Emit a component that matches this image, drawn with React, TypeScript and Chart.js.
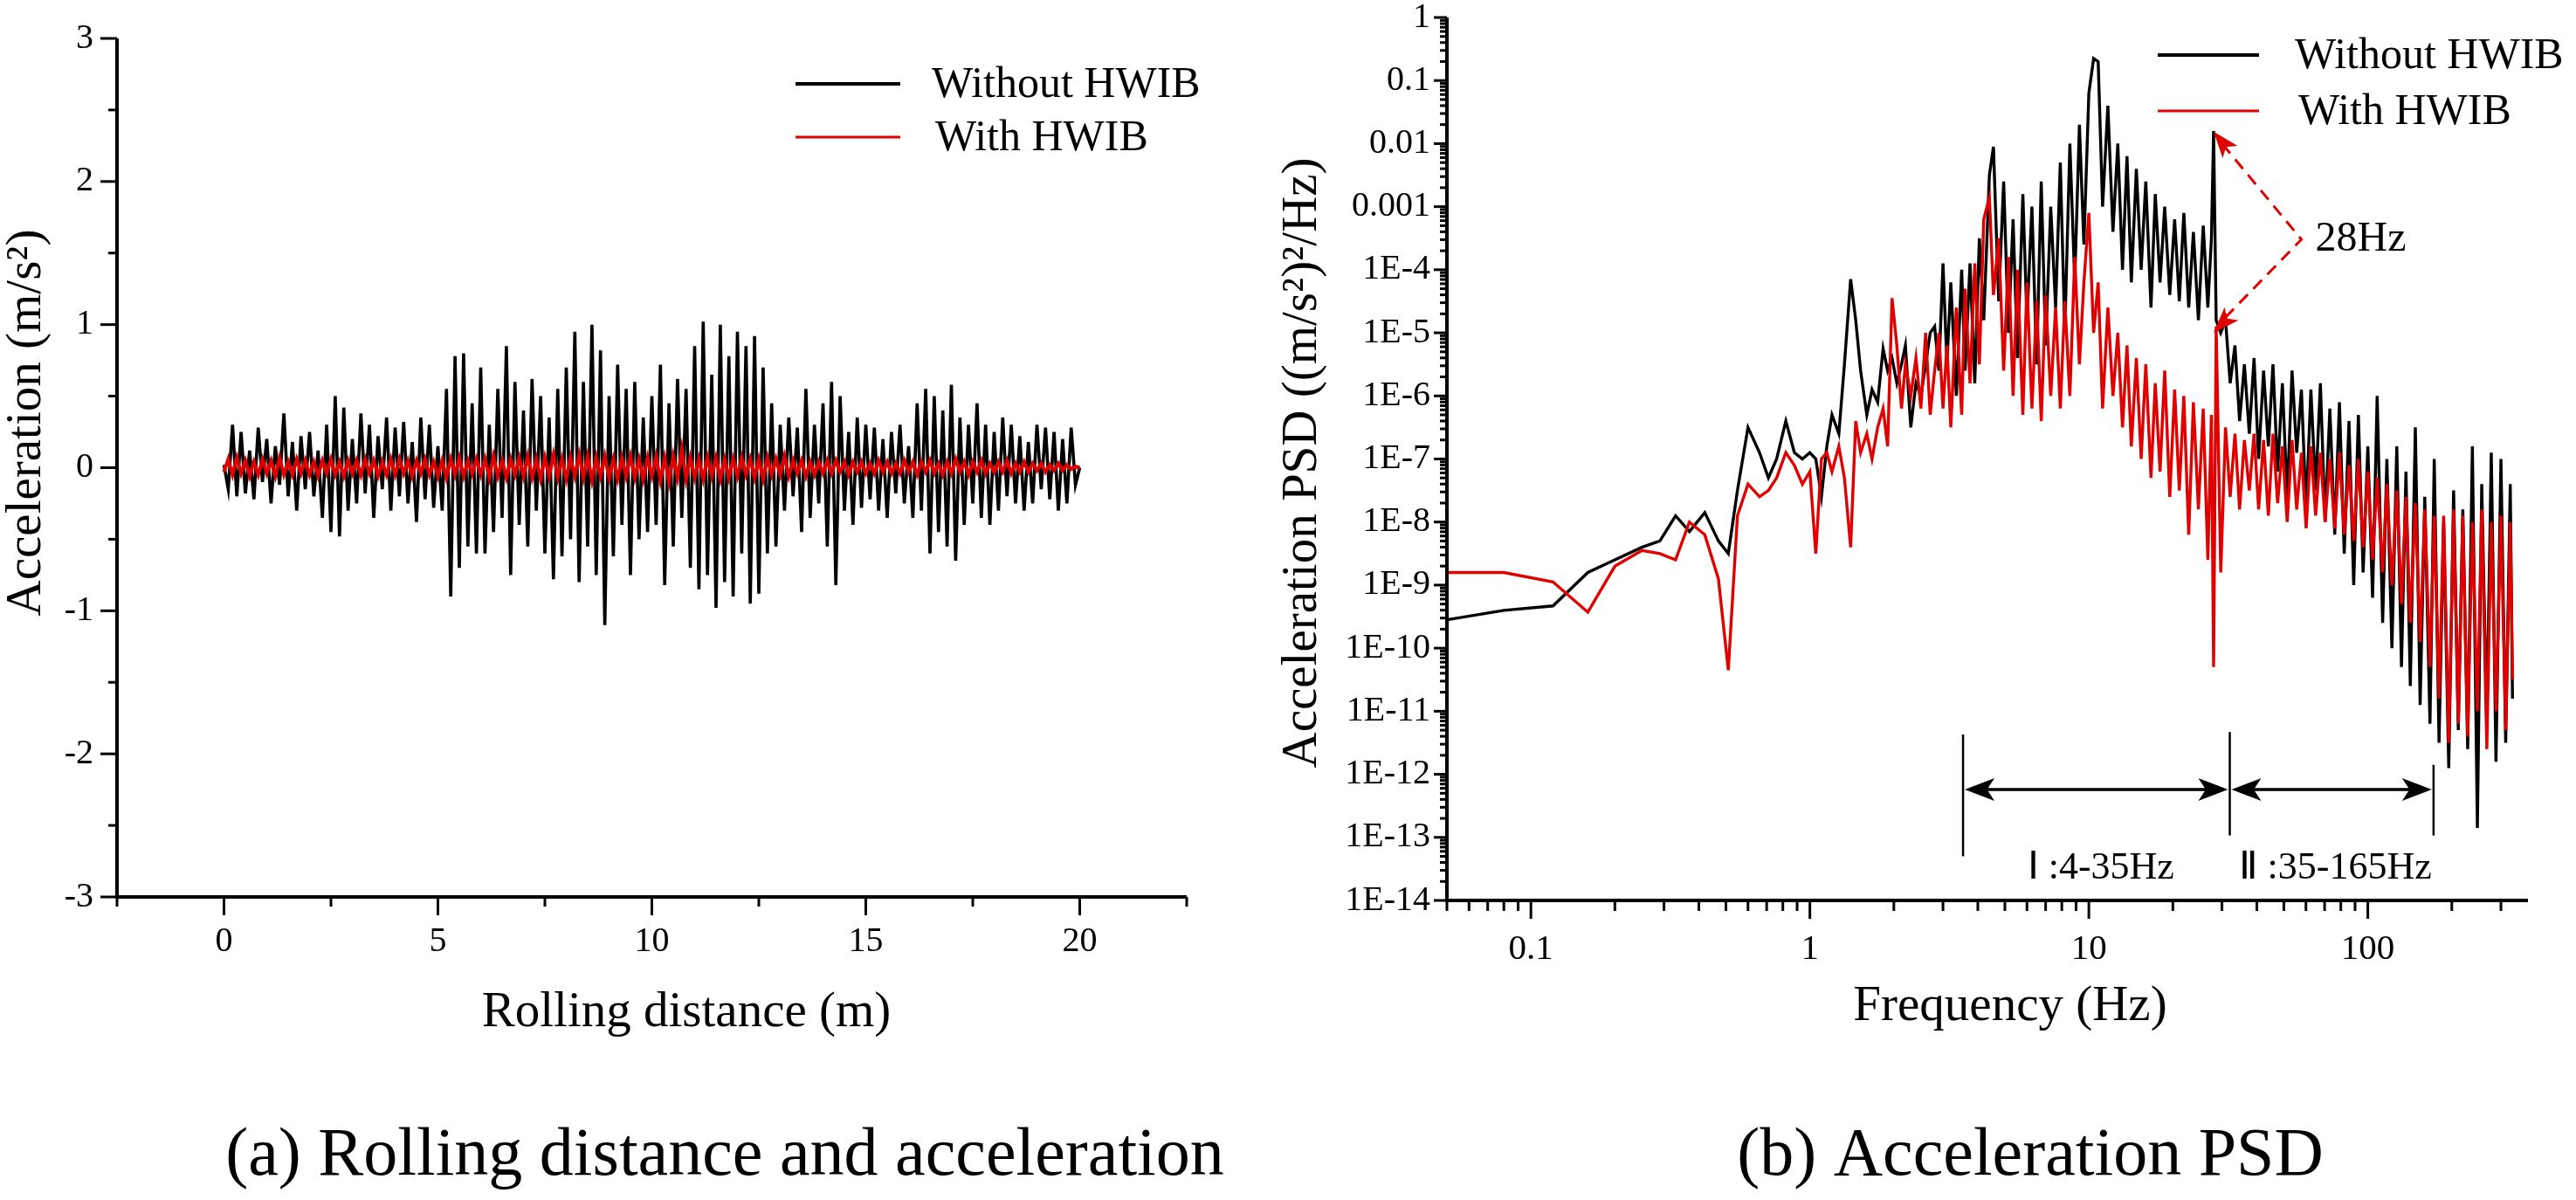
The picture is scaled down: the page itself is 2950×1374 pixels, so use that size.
import React, { useEffect, useRef } from "react";
import { Chart, registerables } from "chart.js";
Chart.register(...registerables);

const FONT = '"Liberation Serif", "Times New Roman", serif';
const BLACK = "#000000";
const RED = "#e00000";

// ---------- (a) time history ----------
const DIST_STEP = 0.1; // m between samples
const ACC_WITHOUT = [
  0.02, -0.15, 0.3, -0.2, 0.25, -0.18, 0.12, -0.22, 0.28, -0.1,
  0.2, -0.25, 0.15, -0.12, 0.38, -0.2, 0.18, -0.3, 0.22, -0.15,
  0.25, -0.2, 0.12, -0.35, 0.3, -0.45, 0.5, -0.48, 0.42, -0.3,
  0.2, -0.25, 0.38, -0.18, 0.3, -0.35, 0.22, -0.15, 0.35, -0.3,
  0.28, -0.2, 0.32, -0.25, 0.18, -0.38, 0.35, -0.22, 0.3, -0.28,
  0.15, -0.3, 0.55, -0.9, 0.78, -0.7, 0.8, -0.55, 0.45, -0.6,
  0.7, -0.6, 0.3, -0.45, 0.55, -0.35, 0.85, -0.75, 0.6, -0.4,
  0.4, -0.55, 0.62, -0.3, 0.5, -0.6, 0.35, -0.78, 0.55, -0.62,
  0.7, -0.5, 0.95, -0.8, 0.6, -0.55, 1.0, -0.75, 0.82, -1.1,
  0.5, -0.62, 0.72, -0.4, 0.55, -0.75, 0.6, -0.5, 0.35, -0.45,
  0.5, -0.4, 0.72, -0.82, 0.45, -0.55, 0.62, -0.35, 0.55, -0.7,
  0.85, -0.85, 1.02, -0.75, 0.65, -0.98, 1.0, -0.8, 0.78, -0.9,
  0.95, -0.6, 0.85, -0.95, 0.92, -0.88, 0.7, -0.6, 0.45, -0.55,
  0.3, -0.3, 0.35, -0.2, 0.28, -0.45, 0.55, -0.35, 0.3, -0.25,
  0.45, -0.55, 0.6, -0.82, 0.5, -0.3, 0.25, -0.4, 0.35, -0.28,
  0.3, -0.22, 0.28, -0.3, 0.2, -0.35, 0.25, -0.18, 0.3, -0.25,
  0.15, -0.35, 0.45, -0.3, 0.55, -0.6, 0.5, -0.45, 0.4, -0.55,
  0.58, -0.65, 0.35, -0.4, 0.3, -0.25, 0.45, -0.35, 0.3, -0.4,
  0.25, -0.3, 0.35, -0.2, 0.3, -0.25, 0.22, -0.3, 0.18, -0.25,
  0.3, -0.15, 0.28, -0.22, 0.25, -0.3, 0.2, -0.25, 0.28, -0.12,
  0.0,
];
const ACC_WITH = [
  -0.03, 0.06, -0.05, 0.07, -0.04, 0.05, -0.06, 0.04, -0.05, 0.06,
  -0.04, 0.05, -0.06, 0.07, -0.05, 0.04, -0.05, 0.06, -0.04, 0.05,
  -0.05, 0.04, -0.06, 0.05, -0.04, 0.06, -0.05, 0.04, -0.06, 0.05,
  -0.04, 0.05, -0.05, 0.06, -0.04, 0.05, -0.06, 0.04, -0.05, 0.06,
  -0.05, 0.06, -0.04, 0.05, -0.06, 0.05, -0.04, 0.06, -0.05, 0.04,
  -0.06, 0.05, -0.07, 0.06, -0.05, 0.07, -0.06, 0.05, -0.04, 0.06,
  -0.05, 0.06, -0.07, 0.08, -0.06, 0.05, -0.07, 0.06, -0.05, 0.07,
  -0.06, 0.08, -0.07, 0.06, -0.08, 0.07, -0.06, 0.09, -0.07, 0.06,
  -0.08, 0.07, -0.06, 0.09, -0.07, 0.08, -0.09, 0.07, -0.06, 0.08,
  -0.07, 0.06, -0.08, 0.07, -0.06, 0.08, -0.07, 0.06, -0.08, 0.07,
  -0.06, 0.08, -0.09, 0.07, -0.1, 0.08, -0.07, 0.13, -0.08, 0.07,
  -0.07, 0.06, -0.08, 0.07, -0.06, 0.07, -0.08, 0.06, -0.07, 0.06,
  -0.06, 0.07, -0.05, 0.06, -0.07, 0.06, -0.08, 0.07, -0.05, 0.06,
  -0.05, 0.08, -0.06, 0.05, -0.04, 0.05, -0.06, 0.04, -0.05, 0.04,
  -0.04, 0.05, -0.04, 0.05, -0.03, 0.04, -0.05, 0.04, -0.03, 0.04,
  -0.04, 0.03, -0.04, 0.05, -0.03, 0.04, -0.04, 0.03, -0.04, 0.05,
  -0.03, 0.04, -0.05, 0.04, -0.03, 0.05, -0.04, 0.03, -0.05, 0.04,
  -0.04, 0.06, -0.03, 0.04, -0.05, 0.04, -0.03, 0.05, -0.04, 0.03,
  -0.03, 0.04, -0.03, 0.05, -0.04, 0.03, -0.03, 0.04, -0.03, 0.03,
  -0.02, 0.03, -0.03, 0.02, -0.02, 0.03, -0.02, 0.02, -0.01, 0.01,
  0.0,
];
const LEFT_X_MIN = -2.5, LEFT_X_MAX = 22.5, LEFT_X_STEP = 2.5;
const LEFT_Y_MIN = -3, LEFT_Y_MAX = 3, LEFT_Y_STEP = 0.5;

// ---------- (b) PSD ----------
const FREQ = [
  0.05, 0.08, 0.12, 0.16, 0.2, 0.25, 0.29, 0.33, 0.37, 0.42,
  0.47, 0.51, 0.55, 0.6, 0.66, 0.71, 0.76, 0.82, 0.88, 0.94,
  1.0, 1.05, 1.1, 1.15, 1.2, 1.27, 1.33, 1.4, 1.46, 1.52,
  1.6, 1.67, 1.75, 1.83, 1.9, 1.97, 2.05, 2.13, 2.2, 2.3,
  2.4, 2.5, 2.6, 2.7, 2.8, 2.9, 3.0,
  3.1, 3.2, 3.35, 3.5, 3.6, 3.75, 3.9, 4.05, 4.2, 4.4,
  4.55, 4.75, 4.95, 5.15, 5.35, 5.55, 5.8, 6.0, 6.25, 6.5,
  6.75, 7.0, 7.3, 7.6, 7.9, 8.2, 8.55, 8.9, 9.25, 9.6,
  10.0, 10.4, 10.8, 11.2, 11.7, 12.2, 12.7, 13.2, 13.7, 14.2,
  14.8, 15.4, 16.0, 16.7, 17.3, 18.0, 18.7, 19.5, 20.3, 21.1,
  21.9, 22.8, 23.7, 24.7, 25.7, 26.7, 27.5, 28.0, 28.6, 29.7,
  30.9, 32.1, 33.4, 34.7, 36.1, 37.6, 39.1, 40.6, 42.3, 44.0,
  45.7, 47.5, 49.4, 51.4, 53.5, 55.6, 57.8, 60.1, 62.5, 65.0,
  67.6, 70.3, 73.1, 76.1, 79.1, 82.3, 85.6, 89.0, 92.5, 96.2,
  100, 104, 108, 113, 117, 122, 127, 132, 137, 142,
  148, 154, 160, 167, 173, 180, 187, 195, 203, 211,
  219, 228, 237, 247, 256, 267, 277, 288, 300, 312,
  324, 330,
];
// log10 of PSD, (m/s^2)^2/Hz
const PSD_WITHOUT_LOG = [
  -9.55, -9.4, -9.33, -8.8, -8.6, -8.4, -8.3, -7.9, -8.15, -7.85,
  -8.3, -8.5, -7.5, -6.5, -6.9, -7.3, -7.0, -6.4, -6.9, -7.0,
  -6.9, -7.0, -7.6, -6.8, -6.3, -6.6, -5.5, -4.15, -4.8, -5.6,
  -6.3, -5.9, -6.1, -5.25, -5.6, -5.4, -5.8, -5.5, -5.2, -6.5,
  -5.8, -6.0, -5.5, -5.0, -4.9, -5.6, -3.9,
  -5.5, -4.2, -6.0, -4.0, -5.6, -3.9, -5.8, -3.5, -4.8, -2.5,
  -2.05, -4.5, -2.6, -5.0, -3.2, -5.4, -2.8, -4.8, -3.0, -5.5,
  -2.6, -5.2, -3.0, -4.6, -2.3, -5.0, -2.0, -4.2, -1.7, -3.6,
  -1.2, -0.65, -0.7, -3.0, -1.4, -3.4, -2.0, -4.0, -2.2, -4.2,
  -2.4, -4.0, -2.6, -4.6, -2.8, -4.2, -3.0, -4.4, -3.2, -4.5,
  -3.1, -4.6, -3.4, -4.8, -3.3, -4.6, -3.5, -1.8, -4.8, -5.0,
  -4.8, -5.8, -5.2, -6.4, -5.5, -6.6, -5.4, -7.0, -5.6, -6.8,
  -5.5, -7.2, -5.8, -7.6, -5.6, -6.9, -5.9, -7.8, -5.9, -7.5,
  -5.8, -8.0, -6.2, -8.2, -6.1, -8.5, -6.4, -9.0, -6.3, -8.8,
  -6.8, -9.2, -6.0, -9.6, -7.0, -10.0, -6.8, -10.3, -7.2, -10.6,
  -6.5, -10.9, -7.6, -11.2, -7.0, -11.5, -8.0, -11.9, -7.5, -11.3,
  -7.8, -11.6, -6.8, -12.85, -7.4, -11.2, -6.9, -11.8, -7.0, -11.5,
  -7.4, -10.8,
];
const PSD_WITH_LOG = [
  -8.8, -8.8, -8.95, -9.43, -8.7, -8.45, -8.5, -8.6, -8.0, -8.2,
  -8.9, -10.35, -7.9, -7.4, -7.6, -7.5, -7.3, -6.9, -7.1, -7.4,
  -7.2, -8.5, -7.0, -6.9, -7.2, -6.8, -7.3, -8.4, -6.4, -6.9,
  -6.6, -7.0, -6.5, -6.2, -6.8, -4.45, -5.2, -6.2, -5.5, -6.0,
  -5.4, -6.2, -5.0, -6.3, -5.6, -5.0, -6.2,
  -5.2, -6.5, -4.6, -6.3, -4.3, -5.8, -3.9, -5.5, -3.2, -2.85,
  -4.4, -3.5, -5.6, -3.8, -6.0, -4.0, -6.3, -4.2, -6.2, -4.5,
  -6.4, -4.4, -6.0, -4.6, -6.2, -4.5, -6.0, -3.8, -5.5, -4.2,
  -3.1, -5.0, -4.2, -6.2, -4.6, -6.0, -5.0, -6.5, -5.2, -6.8,
  -5.4, -7.0, -5.5, -7.3, -5.8, -7.2, -5.6, -7.6, -5.9, -7.5,
  -6.0, -8.2, -6.1, -7.8, -6.2, -8.6, -6.3, -10.3, -4.9, -8.8,
  -6.5, -7.6, -6.6, -7.8, -6.7, -7.5, -6.6, -7.8, -6.7, -7.9,
  -6.6, -7.7, -6.8, -8.0, -6.7, -7.8, -6.9, -8.1, -6.8, -7.9,
  -6.9, -8.0, -7.0, -8.1, -6.9, -8.2, -7.1, -8.3, -7.0, -8.4,
  -7.2, -8.6, -7.3, -8.8, -7.4, -9.0, -7.5, -9.3, -7.6, -9.6,
  -7.7, -9.9, -7.8, -10.3, -7.9, -10.8, -7.9, -11.5, -7.8, -11.2,
  -7.9, -11.4, -8.0, -11.0, -7.8, -11.6, -8.0, -11.0, -7.9, -11.3,
  -8.0, -10.5,
];
const RIGHT_X_MIN = 0.05, RIGHT_X_MAX = 375;
const RIGHT_Y_MIN = 1e-14, RIGHT_Y_MAX = 1;
const SERIES_NAMES = ["Without HWIB", "With HWIB"];
const RANGE_BOUNDS_HZ = [3.54, 32, 172];
const RANGE_LABELS = ["Ⅰ :4-35Hz", "Ⅱ :35-165Hz"];
const PEAK_LABEL = "28Hz";

function fmtLog(v: number) {
  const e = Math.round(Math.log10(v));
  if (e >= -3) return e === 0 ? "1" : (10 ** e).toFixed(-e);
  return "1E" + e;
}
function isDecadeMultiple(v: number) {
  const e = Math.floor(Math.log10(v) + 1e-9);
  const m = v / 10 ** e;
  return { ok: Math.abs(m - Math.round(m)) < 1e-6, major: Math.abs(m - 1) < 1e-6 };
}

function text(ctx: CanvasRenderingContext2D, s: string, x: number, y: number, size: number, align: CanvasTextAlign = "center", base: CanvasTextBaseline = "middle", color = BLACK) {
  ctx.font = `${size}px ${FONT}`;
  ctx.fillStyle = color;
  ctx.textAlign = align;
  ctx.textBaseline = base;
  ctx.fillText(s, x, y);
}
function arrowHead(ctx: CanvasRenderingContext2D, tx: number, ty: number, fx: number, fy: number, len: number, half: number, color: string) {
  const a = Math.atan2(ty - fy, tx - fx);
  ctx.fillStyle = color;
  ctx.beginPath();
  ctx.moveTo(tx, ty);
  ctx.lineTo(tx - len * Math.cos(a) + half * Math.sin(a), ty - len * Math.sin(a) - half * Math.cos(a));
  ctx.lineTo(tx - len * Math.cos(a) * 0.75, ty - len * Math.sin(a) * 0.75);
  ctx.lineTo(tx - len * Math.cos(a) - half * Math.sin(a), ty - len * Math.sin(a) + half * Math.cos(a));
  ctx.closePath();
  ctx.fill();
}

const W_LEFT = 1440, W_RIGHT = 1510, H = 1374, RIGHT_OFFSET = 1440;

function LeftChart() {
  const ref = useRef<HTMLCanvasElement>(null);
  useEffect(() => {
    const n = Math.min(ACC_WITHOUT.length, ACC_WITH.length);
    const black = ACC_WITHOUT.slice(0, n).map((y, i) => ({ x: i * DIST_STEP, y }));
    const red = ACC_WITH.slice(0, n).map((y, i) => ({ x: i * DIST_STEP, y }));
    const deco = {
      id: "decoLeft",
      afterDraw(chart: any) {
        const ctx = chart.ctx as CanvasRenderingContext2D;
        const ca = chart.chartArea;
        const xs = chart.scales.x, ys = chart.scales.y;
        ctx.save();
        ctx.strokeStyle = BLACK;
        ctx.lineWidth = 4;
        ctx.beginPath();
        ctx.moveTo(ca.left, ca.top);
        ctx.lineTo(ca.left, ca.bottom);
        ctx.lineTo(ca.right, ca.bottom);
        ctx.stroke();
        ctx.lineWidth = 3;
        xs.ticks.forEach((t: any) => {
          const v = t.value;
          const px = xs.getPixelForValue(v);
          const major = Math.abs(v % 5) < 1e-6 && v >= 0 && v <= 20;
          ctx.beginPath();
          ctx.moveTo(px, ca.bottom);
          ctx.lineTo(px, ca.bottom + (major ? 21 : 11));
          ctx.stroke();
          if (major) text(ctx, String(v), px, ca.bottom + 51, 40);
        });
        ys.ticks.forEach((t: any) => {
          const v = t.value;
          const py = ys.getPixelForValue(v);
          const major = Math.abs(v - Math.round(v)) < 1e-6;
          ctx.beginPath();
          ctx.moveTo(ca.left, py);
          ctx.lineTo(ca.left - (major ? 19 : 10), py);
          ctx.stroke();
          if (major) text(ctx, String(Math.round(v)), ca.left - 27, py, 40, "right");
        });
        text(ctx, "Rolling distance (m)", 786, 1160, 57);
        text(ctx, "(a) Rolling distance and acceleration", 830, 1325, 78);
        ctx.save();
        ctx.translate(31, 484);
        ctx.rotate(-Math.PI / 2);
        text(ctx, "Acceleration (m/s²)", 0, 0, 57);
        ctx.restore();
        ctx.lineWidth = 4;
        ctx.strokeStyle = BLACK;
        ctx.beginPath(); ctx.moveTo(911, 96); ctx.lineTo(1031, 96); ctx.stroke();
        ctx.strokeStyle = RED;
        ctx.lineWidth = 3;
        ctx.beginPath(); ctx.moveTo(911, 157); ctx.lineTo(1031, 157); ctx.stroke();
        text(ctx, SERIES_NAMES[0], 1067, 98, 50, "left");
        text(ctx, SERIES_NAMES[1], 1071, 159, 50, "left");
        ctx.restore();
      },
    };
    const chart = new Chart(ref.current!, {
      type: "line",
      data: {
        datasets: [
          { label: SERIES_NAMES[0], data: black, borderColor: BLACK, borderWidth: 3.6, pointRadius: 0, order: 2 },
          { label: SERIES_NAMES[1], data: red, borderColor: RED, borderWidth: 4, pointRadius: 0, order: 1 },
        ],
      },
      options: {
        animation: false,
        responsive: false,
        devicePixelRatio: 1,
        layout: { padding: { left: 0, top: 44, right: W_LEFT - 1359, bottom: 0 } },
        plugins: { legend: { display: false }, tooltip: { enabled: false } },
        scales: {
          x: {
            type: "linear", min: LEFT_X_MIN, max: LEFT_X_MAX,
            ticks: { display: false, stepSize: LEFT_X_STEP },
            grid: { display: false }, border: { display: false },
            afterFit: (s: any) => { s.height = H - 1027; },
          },
          y: {
            type: "linear", min: LEFT_Y_MIN, max: LEFT_Y_MAX,
            ticks: { display: false, stepSize: LEFT_Y_STEP },
            grid: { display: false }, border: { display: false },
            afterFit: (s: any) => { s.width = 134; },
          },
        },
      } as any,
      plugins: [deco],
    });
    return () => chart.destroy();
  }, []);
  return <canvas ref={ref} width={W_LEFT} height={H} style={{ position: "absolute", left: 0, top: 0, width: W_LEFT, height: H }} />;
}

function RightChart() {
  const ref = useRef<HTMLCanvasElement>(null);
  useEffect(() => {
    const n = Math.min(FREQ.length, PSD_WITHOUT_LOG.length, PSD_WITH_LOG.length);
    const black = FREQ.slice(0, n).map((f, i) => ({ x: f, y: 10 ** PSD_WITHOUT_LOG[i] }));
    const red = FREQ.slice(0, n).map((f, i) => ({ x: f, y: 10 ** PSD_WITH_LOG[i] }));
    const O = RIGHT_OFFSET;
    const deco = {
      id: "decoRight",
      afterDraw(chart: any) {
        const ctx = chart.ctx as CanvasRenderingContext2D;
        const ca = chart.chartArea;
        const xs = chart.scales.x, ys = chart.scales.y;
        ctx.save();
        ctx.strokeStyle = BLACK;
        ctx.lineWidth = 4;
        ctx.beginPath();
        ctx.moveTo(ca.left, ca.top);
        ctx.lineTo(ca.left, ca.bottom);
        ctx.lineTo(ca.right, ca.bottom);
        ctx.stroke();
        ctx.lineWidth = 3;
        xs.ticks.forEach((t: any) => {
          const v = t.value;
          const d = isDecadeMultiple(v);
          if (!d.ok) return;
          const px = xs.getPixelForValue(v);
          ctx.beginPath();
          ctx.moveTo(px, ca.bottom);
          ctx.lineTo(px, ca.bottom + (d.major ? 21 : 12));
          ctx.stroke();
          if (d.major) text(ctx, String(v), px, ca.bottom + 56, 41);
        });
        ys.ticks.forEach((t: any) => {
          const v = t.value;
          const d = isDecadeMultiple(v);
          if (!d.ok) return;
          const py = ys.getPixelForValue(v);
          ctx.beginPath();
          ctx.moveTo(ca.left, py);
          ctx.lineTo(ca.left - (d.major ? 15 : 8), py);
          ctx.stroke();
          if (d.major) text(ctx, fmtLog(v), ca.left - 19, py, 40, "right");
        });
        text(ctx, "Frequency (Hz)", 2302 - O, 1153, 57);
        text(ctx, "(b) Acceleration PSD", 2325 - O, 1325, 78);
        ctx.save();
        ctx.translate(1492 - O, 530);
        ctx.rotate(-Math.PI / 2);
        text(ctx, "Acceleration PSD ((m/s²)²/Hz)", 0, 0, 57);
        ctx.restore();
        ctx.lineWidth = 4;
        ctx.strokeStyle = BLACK;
        ctx.beginPath(); ctx.moveTo(2471 - O, 63); ctx.lineTo(2587 - O, 63); ctx.stroke();
        ctx.strokeStyle = RED;
        ctx.lineWidth = 3;
        ctx.beginPath(); ctx.moveTo(2471 - O, 127); ctx.lineTo(2587 - O, 127); ctx.stroke();
        text(ctx, SERIES_NAMES[0], 2628 - O, 65, 50, "left");
        text(ctx, SERIES_NAMES[1], 2632 - O, 129, 50, "left");

        const X = (f: number) => xs.getPixelForValue(f);
        const Y = (v: number) => ys.getPixelForValue(10 ** v);
        ctx.strokeStyle = BLACK;
        ctx.lineWidth = 2.5;
        const spans = [[-11.37, -13.3], [-11.33, -12.97], [-11.85, -12.97]];
        RANGE_BOUNDS_HZ.forEach((f, i) => {
          ctx.beginPath();
          ctx.moveTo(X(f), Y(spans[i][0]));
          ctx.lineTo(X(f), Y(spans[i][1]));
          ctx.stroke();
        });
        const ay = Y(-12.24);
        ctx.lineWidth = 3.5;
        for (let i = 0; i < 2; i++) {
          const a = X(RANGE_BOUNDS_HZ[i]), b = X(RANGE_BOUNDS_HZ[i + 1]);
          ctx.beginPath(); ctx.moveTo(a + 10, ay); ctx.lineTo(b - 10, ay); ctx.stroke();
          arrowHead(ctx, a + 2, ay, b, ay, 34, 13, BLACK);
          arrowHead(ctx, b - 2, ay, a, ay, 34, 13, BLACK);
          const cx = (a + b) / 2;
          text(ctx, RANGE_LABELS[i], cx + (i === 0 ? 5 : 4), Y(-13.49), 44);
        }
        const vx = X(57.8), vy = Y(-3.52);
        const tx = X(28), t1 = Y(-1.81), t2 = Y(-5.0);
        ctx.strokeStyle = RED;
        ctx.lineWidth = 3;
        ctx.setLineDash([14, 9]);
        ctx.beginPath();
        ctx.moveTo(tx + 10, t1 + 14); ctx.lineTo(vx, vy); ctx.lineTo(tx + 10, t2 - 14);
        ctx.stroke();
        ctx.setLineDash([]);
        arrowHead(ctx, tx, t1, vx, vy, 30, 11, RED);
        arrowHead(ctx, tx, t2, vx, vy, 30, 11, RED);
        text(ctx, PEAK_LABEL, vx + 16, vy, 48, "left");
        ctx.restore();
      },
    };
    const chart = new Chart(ref.current!, {
      type: "line",
      data: {
        datasets: [
          { label: SERIES_NAMES[0], data: black, borderColor: BLACK, borderWidth: 3.4, pointRadius: 0, order: 2 },
          { label: SERIES_NAMES[1], data: red, borderColor: RED, borderWidth: 3.4, pointRadius: 0, order: 1 },
        ],
      },
      options: {
        animation: false,
        responsive: false,
        devicePixelRatio: 1,
        layout: { padding: { left: 0, top: 20, right: W_RIGHT - (2895 - RIGHT_OFFSET), bottom: 0 } },
        plugins: { legend: { display: false }, tooltip: { enabled: false } },
        scales: {
          x: {
            type: "logarithmic", min: RIGHT_X_MIN, max: RIGHT_X_MAX,
            ticks: { display: false, autoSkip: false },
            grid: { display: false }, border: { display: false },
            afterFit: (s: any) => { s.height = H - 1031; },
          },
          y: {
            type: "logarithmic", min: RIGHT_Y_MIN, max: RIGHT_Y_MAX,
            ticks: { display: false, autoSkip: false },
            grid: { display: false }, border: { display: false },
            afterFit: (s: any) => { s.width = 1657 - RIGHT_OFFSET; },
          },
        },
      } as any,
      plugins: [deco],
    });
    return () => chart.destroy();
  }, []);
  return <canvas ref={ref} width={W_RIGHT} height={H} style={{ position: "absolute", left: RIGHT_OFFSET, top: 0, width: W_RIGHT, height: H }} />;
}

export default function App() {
  return (
    <div style={{ position: "fixed", left: 0, top: 0, width: 2950, height: H, background: "#fff", overflow: "hidden" }}>
      <LeftChart />
      <RightChart />
    </div>
  );
}
